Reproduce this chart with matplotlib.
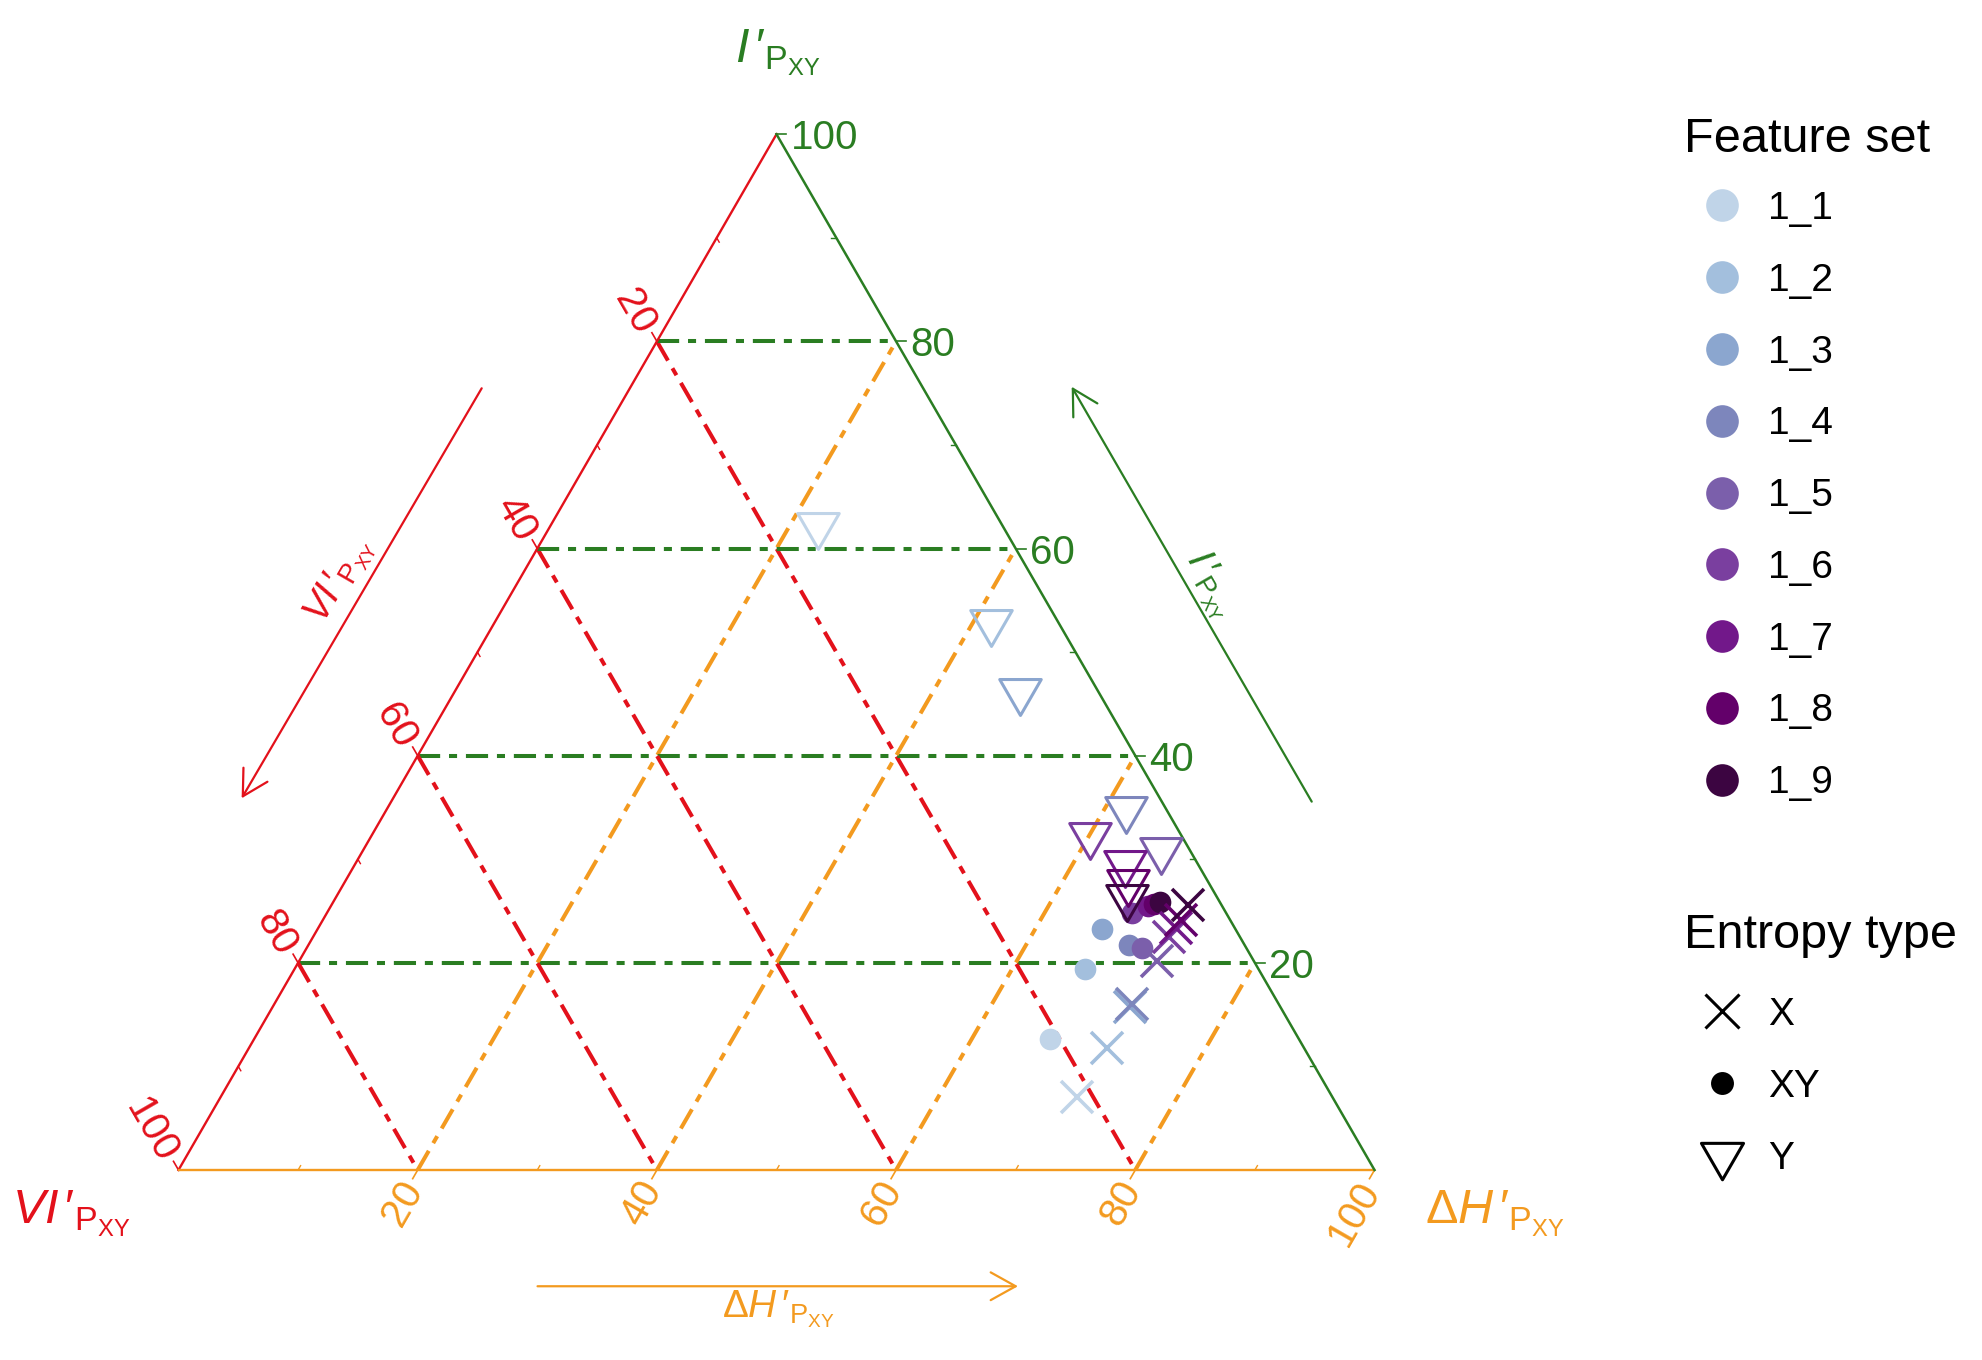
import numpy as np
import matplotlib
matplotlib.use("Agg")
import matplotlib.pyplot as plt
from matplotlib.path import Path
from matplotlib.lines import Line2D
from matplotlib.patches import FancyArrowPatch

plt.rcParams['font.family'] = ['Liberation Sans', 'DejaVu Sans']
plt.rcParams['mathtext.fontset'] = 'custom'
plt.rcParams['mathtext.rm'] = 'Liberation Sans'
plt.rcParams['mathtext.it'] = 'Liberation Sans:italic'
plt.rcParams['mathtext.bf'] = 'Liberation Sans:bold'

# ---------------- data ----------------
feature_sets = ['1_1', '1_2', '1_3', '1_4', '1_5', '1_6', '1_7', '1_8', '1_9']
feature_colors = ['#c0d4e8', '#a3bfdd', '#8ba6cf', '#7d86bc', '#7b5fab',
                  '#7a3f9f', '#72188a', '#63006a', '#3c0541']
entropy_types = ['X', 'XY', 'Y']

# Entropy type X
I_X = [7.0, 11.8, 15.7, 16.0, 20.2, 22.5, 23.4, 24.1, 25.6]
dH_X = [71.6, 71.7, 71.7, 71.7, 71.7, 71.6, 71.7, 71.8, 71.6]
VI_X = [21.4, 16.5, 12.6, 12.3, 8.1, 5.9, 4.9, 4.1, 2.8]
# Entropy type XY
I_XY = [12.6, 19.4, 23.3, 21.7, 21.4, 24.8, 25.5, 25.7, 25.9]
dH_XY = [66.6, 66.1, 65.6, 68.6, 69.9, 67.3, 68.3, 68.7, 69.1]
VI_XY = [20.8, 14.5, 11.1, 9.7, 8.7, 7.9, 6.2, 5.6, 5.0]
# Entropy type Y
I_Y = [62.3, 52.9, 46.2, 34.9, 30.9, 32.3, 29.6, 27.8, 26.4]
dH_Y = [22.3, 41.5, 47.3, 61.8, 66.7, 60.1, 64.3, 65.5, 66.1]
VI_Y = [15.4, 5.6, 6.5, 3.3, 2.4, 7.6, 6.1, 6.7, 7.5]

grid_ticks = [20, 40, 60, 80]
label_ticks = [20, 40, 60, 80, 100]
minor_ticks = [10, 30, 50, 70, 90]

# ---------------- styling ----------------
RED = '#e3111b'
ORANGE = '#f39a1f'
GREEN = '#2a7d22'
S3 = np.sqrt(3) / 2

LBL_I = r"$I\,′_{\mathrm{P}_{\mathrm{XY}}}$"
LBL_VI = r"$VI\,′_{\mathrm{P}_{\mathrm{XY}}}$"
LBL_DH = r"$\Delta H\,′_{\mathrm{P}_{\mathrm{XY}}}$"


def tern(I, dH, VI):
    I = np.asarray(I, float)
    dH = np.asarray(dH, float)
    VI = np.asarray(VI, float)
    tot = I + dH + VI
    i, d = I / tot, dH / tot
    return d + 0.5 * i, S3 * i


W, H = 1983, 1360
fig = plt.figure(figsize=(W / 100, H / 100), dpi=100)
L = 1196.0
ax = fig.add_axes([178.5 / W, (H - 1170) / H, L / W, L * S3 / H])
ax.set_xlim(0, 1)
ax.set_ylim(0, S3)
ax.axis('off')
PX = 1.0 / L  # one pixel in data units

# edges
ax.plot([0, 0.5], [0, S3], color=RED, lw=1.7, zorder=3, clip_on=False)
ax.plot([0, 1], [0, 0], color=ORANGE, lw=1.7, zorder=3, clip_on=False)
ax.plot([1, 0.5], [0, S3], color=GREEN, lw=1.8, zorder=3, clip_on=False)

dash = (0, (5.5, 2.2, 2.0, 2.2))
for v in grid_ticks:
    x0, y0 = tern(v, 0, 100 - v)
    x1, y1 = tern(v, 100 - v, 0)
    ax.plot([x0, x1], [y0, y1], color=GREEN, lw=2.9, ls=dash, zorder=2)
    x0, y0 = tern(100 - v, 0, v)
    x1, y1 = tern(0, 100 - v, v)
    ax.plot([x0, x1], [y0, y1], color=RED, lw=2.9, ls=dash, zorder=2)
    x0, y0 = tern(0, v, 100 - v)
    x1, y1 = tern(100 - v, v, 0)
    ax.plot([x0, x1], [y0, y1], color=ORANGE, lw=2.9, ls=dash, zorder=2)

tick_len = 10 * PX
gap = 14 * PX
TKSIZE = 29
dir_green = np.array([1.0, 0.0])
dir_red = np.array([-0.5, S3])
dir_orange = np.array([-0.5, -S3])
for v in label_ticks:
    p = np.array(tern(v, 100 - v, 0))
    q = p + dir_green * tick_len
    ax.plot([p[0], q[0]], [p[1], q[1]], color=GREEN, lw=1.2, clip_on=False)
    t = p + dir_green * gap
    ax.text(t[0], t[1], str(v), color=GREEN, fontsize=TKSIZE, ha='left',
            va='center_baseline', rotation=0, rotation_mode='anchor')
    p = np.array(tern(100 - v, 0, v))
    q = p + dir_red * tick_len
    ax.plot([p[0], q[0]], [p[1], q[1]], color=RED, lw=1.2, clip_on=False)
    t = p + dir_red * gap
    ax.text(t[0], t[1], str(v), color=RED, fontsize=TKSIZE, ha='right',
            va='center_baseline', rotation=-60, rotation_mode='anchor')
    p = np.array(tern(0, v, 100 - v))
    q = p + dir_orange * tick_len
    ax.plot([p[0], q[0]], [p[1], q[1]], color=ORANGE, lw=1.2, clip_on=False)
    t = p + dir_orange * gap
    ax.text(t[0], t[1], str(v), color=ORANGE, fontsize=TKSIZE, ha='right',
            va='center_baseline', rotation=60, rotation_mode='anchor')

mlen = 5 * PX
for v in minor_ticks:
    p = np.array(tern(v, 100 - v, 0)); q = p - dir_green * mlen
    ax.plot([p[0], q[0]], [p[1], q[1]], color=GREEN, lw=1.0)
    p = np.array(tern(100 - v, 0, v)); q = p - dir_red * mlen
    ax.plot([p[0], q[0]], [p[1], q[1]], color=RED, lw=1.0)
    p = np.array(tern(0, v, 100 - v)); q = p - dir_orange * mlen
    ax.plot([p[0], q[0]], [p[1], q[1]], color=ORANGE, lw=1.0)

# ---------------- markers ----------------
tri = Path([(-S3, 0.5), (S3, 0.5), (0, -1), (-S3, 0.5)],
           [Path.MOVETO, Path.LINETO, Path.LINETO, Path.CLOSEPOLY])

xs, ys = tern(I_XY, dH_XY, VI_XY)
for k in range(len(feature_sets)):
    ax.plot(xs[k], ys[k], marker='o', ms=15.6, color=feature_colors[k],
            mec='none', ls='none', zorder=5, clip_on=False)
xs, ys = tern(I_X, dH_X, VI_X)
for k in range(len(feature_sets)):
    ax.plot(xs[k], ys[k], marker='x', ms=23, color=feature_colors[k],
            mew=2.6, ls='none', zorder=6, clip_on=False)
xs, ys = tern(I_Y, dH_Y, VI_Y)
for k in range(len(feature_sets)):
    ax.plot(xs[k], ys[k], marker=tri, ms=34.5, mfc='none',
            mec=feature_colors[k], mew=2.2, ls='none', zorder=7, clip_on=False)

# ---------------- axis titles ----------------
TSIZE = 35
ASIZE = 28
ax.text(0.5011, 0.9258, LBL_I, color=GREEN,
        fontsize=TSIZE, ha='center', va='baseline')
ax.text(-0.0899, -0.0452, LBL_VI, color=RED,
        fontsize=TSIZE, ha='center', va='baseline')
ax.text(1.1008, -0.0446, LBL_DH, color=ORANGE,
        fontsize=TSIZE, ha='center', va='baseline')


def arrow(p0, p1, col):
    a = FancyArrowPatch(p0, p1, arrowstyle='->,head_length=0.9,head_width=0.5',
                        mutation_scale=20, color=col, lw=1.6, clip_on=False,
                        shrinkA=0, shrinkB=0)
    ax.add_patch(a)


arrow((0.2535, 0.6536), (0.0528, 0.3108), RED)
arrow((0.9475, 0.3080), (0.7468, 0.6549), GREEN)
arrow((0.3002, -0.0972), (0.7019, -0.0972), ORANGE)

ax.text(0.1344, 0.4927, LBL_VI, color=RED,
        fontsize=ASIZE, ha='center', va='center', rotation=60,
        rotation_mode='anchor')
ax.text(0.8631, 0.4891, LBL_I, color=GREEN,
        fontsize=ASIZE, ha='center', va='center', rotation=-60,
        rotation_mode='anchor')
ax.text(0.5011, -0.1162, LBL_DH, color=ORANGE,
        fontsize=ASIZE, ha='center', va='center')

# ---------------- legends ----------------
LEGT = 35
LEGF = 28
fig.text(1684 / W, 1 - 152 / H, 'Feature set', fontsize=LEGT,
         ha='left', va='baseline')
h1 = [Line2D([], [], marker='o', ls='none', ms=23.5, color=c, mec='none')
      for c in feature_colors]
fig.legend(h1, feature_sets, loc='upper left',
           bbox_to_anchor=(1688 / W, 1 - 191 / H), frameon=False,
           fontsize=LEGF, borderpad=0, borderaxespad=0, handlelength=1.73,
           handletextpad=0.33, labelspacing=0.92)

fig.text(1684 / W, 1 - 948 / H, 'Entropy type', fontsize=LEGT,
         ha='left', va='baseline')
h2 = [Line2D([], [], marker='x', ls='none', ms=23.8, color='black', mew=2.2),
      Line2D([], [], marker='o', ls='none', ms=16.5, color='black', mec='none'),
      Line2D([], [], marker=tri, ls='none', ms=35, mfc='none', mec='black', mew=2.2)]
fig.legend(h2, entropy_types, loc='upper left',
           bbox_to_anchor=(1688 / W, 1 - 997 / H), frameon=False,
           fontsize=LEGF, borderpad=0, borderaxespad=0, handlelength=1.73,
           handletextpad=0.33, labelspacing=0.92)

fig.savefig('out.png', dpi=100)
